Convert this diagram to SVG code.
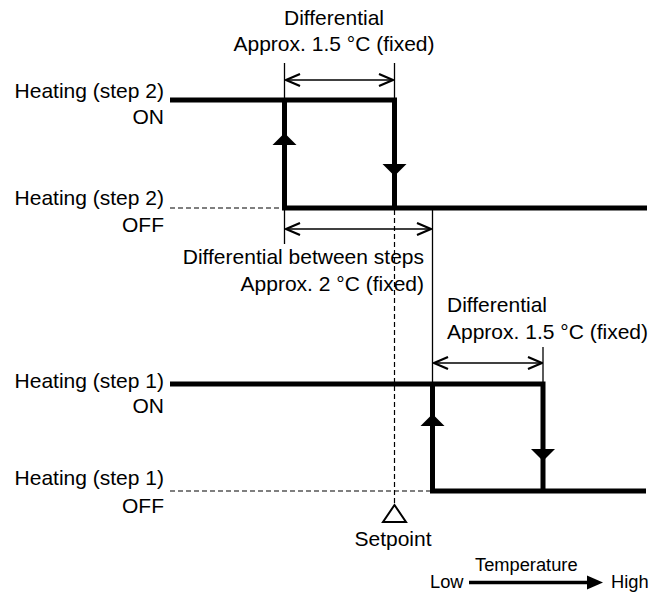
<svg xmlns="http://www.w3.org/2000/svg" width="662" height="596" viewBox="0 0 662 596">
<style>
text{font-family:"Liberation Sans",Arial,sans-serif;font-size:21px;fill:#000}
.sm{font-size:18.3px}
.thick{fill:none;stroke:#000;stroke-width:5;stroke-linejoin:miter}
.thin{fill:none;stroke:#000;stroke-width:1.3}
.dash{fill:none;stroke:#000;stroke-width:1.2;stroke-dasharray:5 3}
.dim{fill:none;stroke:#000;stroke-width:1.6;marker-start:url(#open);marker-end:url(#open)}
.head{fill:#000}
</style>
<defs>
<marker id="open" viewBox="0 0 16 14" refX="15" refY="7" markerWidth="16" markerHeight="14" markerUnits="userSpaceOnUse" orient="auto-start-reverse">
<path d="M1,1 L15,7 L1,13" fill="none" stroke="#000" stroke-width="2.2"/>
</marker>
</defs>
<g id="labels">
<text x="164" y="98" text-anchor="end">Heating (step 2)</text>
<text x="164" y="124" text-anchor="end">ON</text>
<text x="164" y="205" text-anchor="end">Heating (step 2)</text>
<text x="164" y="232" text-anchor="end">OFF</text>
<text x="164" y="388" text-anchor="end">Heating (step 1)</text>
<text x="164" y="413" text-anchor="end">ON</text>
<text x="164" y="485" text-anchor="end">Heating (step 1)</text>
<text x="164" y="513" text-anchor="end">OFF</text>
</g>
<g id="step2">
<path class="thick" d="M170,100 H394.5 V208"/>
<path class="thick" d="M284.5,100 V208 H647"/>
<path class="head" d="M284.5,133 L296.5,145 L272.5,145 Z"/>
<path class="head" d="M394.5,176 L382.5,164 L406.5,164 Z"/>
</g>
<g id="step1">
<path class="thick" d="M170,384 H543 V491"/>
<path class="thick" d="M432.5,384 V491 H646"/>
<path class="head" d="M432.5,414 L444.5,426 L420.5,426 Z"/>
<path class="head" d="M543,461 L531,449 L555,449 Z"/>
</g>
<g id="connectors">
<line class="dash" x1="170" y1="208" x2="284" y2="208"/>
<line class="dash" x1="170" y1="491" x2="432" y2="491"/>
<line class="dash" x1="394.5" y1="210" x2="394.5" y2="503"/>
<line class="thin" x1="284.5" y1="63" x2="284.5" y2="100"/>
<line class="thin" x1="394.5" y1="63" x2="394.5" y2="100"/>
<line class="thin" x1="284.5" y1="208" x2="284.5" y2="244"/>
<line class="thin" x1="432.5" y1="208" x2="432.5" y2="384"/>
<line class="thin" x1="543" y1="347" x2="543" y2="384"/>
<line class="dim" x1="286" y1="80" x2="393" y2="80"/>
<line class="dim" x1="286" y1="229" x2="431" y2="229"/>
<line class="dim" x1="434" y1="363" x2="542" y2="363"/>
</g>
<g id="diff2">
<text x="334" y="25" text-anchor="middle">Differential</text>
<text x="334" y="51" text-anchor="middle">Approx. 1.5 °C (fixed)</text>
</g>
<g id="between">
<text x="424" y="264" text-anchor="end">Differential between steps</text>
<text x="424" y="291" text-anchor="end">Approx. 2 °C (fixed)</text>
</g>
<g id="diff1">
<text x="447" y="312">Differential</text>
<text x="447" y="339">Approx. 1.5 °C (fixed)</text>
</g>
<g id="setpoint">
<path d="M394.5,505 L406,522 L383,522 Z" fill="#fff" stroke="#000" stroke-width="2"/>
<text x="393" y="546" text-anchor="middle">Setpoint</text>
</g>
<g id="axis">
<text class="sm" x="475" y="571">Temperature</text>
<text class="sm" x="430" y="588">Low</text>
<text class="sm" x="611" y="588">High</text>
<line x1="469" y1="582.5" x2="590" y2="582.5" stroke="#000" stroke-width="3.5"/>
<path class="head" d="M603,582.5 L587,575.5 L587,589.5 Z"/>
</g>
</svg>
